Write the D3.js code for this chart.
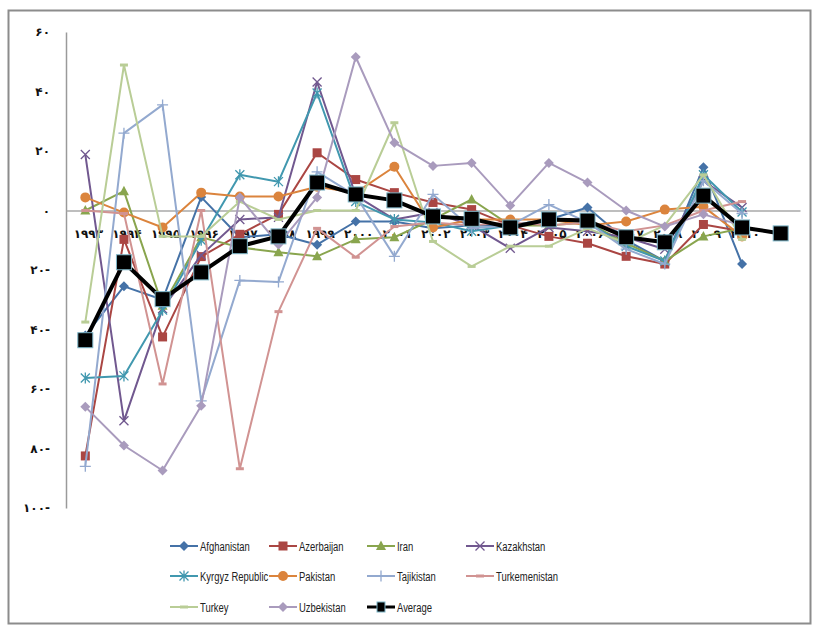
<!DOCTYPE html>
<html>
<head>
<meta charset="utf-8">
<script src="https://cdn.jsdelivr.net/npm/d3@7"></script>
<style>
  body { margin: 0; background: #fff; }
  .yaxis text, .xaxis text { font-family: "DejaVu Sans", sans-serif; font-size: 12px; font-weight: bold; fill: #111; }
  .legend text { font-family: "Liberation Sans", sans-serif; font-size: 13.5px; fill: #222; }
</style>
</head>
<body>
<script>
// years 1993 - 2011 (countries stop at 2010)
var years = ["1993","1994","1995","1996","1997","1998","1999","2000","2001","2002","2003","2004","2005","2006","2007","2008","2009","2010","2011"];
var yearLabels = ["۱۹۹۳","۱۹۹۴","۱۹۹۵","۱۹۹۶","۱۹۹۷","۱۹۹۸","۱۹۹۹","۲۰۰۰","۲۰۰۱","۲۰۰۲","۲۰۰۳","۲۰۰۴","۲۰۰۵","۲۰۰۶","۲۰۰۷","۲۰۰۸","۲۰۰۹","۲۰۱۰",""];
var yTicks = [60, 40, 20, 0, -20, -40, -60, -80, -100];
var yTickLabels = ["۶۰","۴۰","۲۰","۰","۲۰-","۴۰-","۶۰-","۸۰-","۱۰۰-"];

var afghanistan  = [-42, -25.5, -30, 4.5, -9, -8, -11.5, -3.7, -3.7, -6, -5, -5, -3, 1, -10, -17, 14.5, -18, null];
var azerbaijan   = [-82.5, -9.7, -42.5, -15.5, -8, -1.3, 19.4, 10.4, 6, 2.7, 0.3, -5, -8.7, -11, -15.4, -18, -4.7, -7, null];
var iran         = [0, 6.5, -32, -9, -12.4, -14, -15.4, -9.7, -9, -3, 3.7, -5, -5, -4, -11, -17, -8.7, -6, null];
var kazakhstan   = [18.8, -70.7, -33, -15, -3, -2.3, 43.2, 5, -3, -0.7, -5, -12.7, -5.7, -7, -9, -13, 10, 1, null];
var kyrgyz       = [-56.3, -55.6, -33.5, -10, 12, 9.7, 39.5, 3, -3, -4, -7, -5, -3, -4, -12, -17, 12, -0.5, null];
var pakistan     = [4.4, -0.7, -5.7, 6, 4.7, 4.7, 8, 6, 14.7, -5.7, -3, -3, -3, -5, -3.7, 0.3, 1.3, -8.7, null];
var tajikistan   = [-86, 26, 35.5, -64, -23.5, -24, 13, 5, -15.4, 5.4, -6, -5, 2, -4, -13, -18, 10, -1, null];
var turkemenistan = [0, -1, -58.3, 0, -86.8, -34, -6, -15.7, -5.4, -4, -5, -4, -5, -4, -7, -5, 0, 3, null];
var turkey       = [-37.5, 48.9, -8.7, -8.7, 3, -3, 0, 0, 29.5, -10.4, -18.8, -12, -12, -6, -11, -5, 12, -9.7, null];
var uzbekistan   = [-66, -79, -87.4, -65.6, 4.4, -11.4, 4.4, 51.6, 22.8, 15, 16, 1.7, 16, 9.4, 0, -5.4, -1.3, -5, null];
var average      = [-43.6, -17.4, -29.8, -20.8, -12, -8.7, 9.4, 5.4, 3.4, -2, -2.8, -5.7, -3, -3.4, -9, -10.7, 5, -5.7, -7.7];

var seriesNames = ["Afghanistan","Azerbaijan","Iran","Kazakhstan","Kyrgyz Republic","Pakistan","Tajikistan","Turkemenistan","Turkey","Uzbekistan","Average"];
var seriesData = [afghanistan, azerbaijan, iran, kazakhstan, kyrgyz, pakistan, tajikistan, turkemenistan, turkey, uzbekistan, average];
var seriesColors = ["#4572A7","#AA4643","#89A54E","#71588F","#4198AF","#DB843D","#93A9CF","#D19392","#B9CD96","#A99BBD","#000000"];
var seriesMarkers = ["diamond","square","triangle","x","star","circle","plus","dash","dash","diamond","bigsquare"];

var svgWidth = 814;
var svgHeight = 628;

var svg = d3.select("body")
    .append("svg")
    .attr("width", svgWidth)
    .attr("height", svgHeight);

// outer frame
svg.append("rect")
    .attr("x", 8.5).attr("y", 10.5)
    .attr("width", 802).attr("height", 613)
    .attr("fill", "#fff")
    .attr("stroke", "#8c8c8c")
    .attr("stroke-width", 2);

var xScale = d3.scaleBand()
    .domain(years)
    .range([66, 800]);

var yScale = d3.scaleLinear()
    .domain([-100, 60])
    .range([508, 32]);

var cx = function(i) { return xScale(years[i]) + xScale.bandwidth() / 2; };

// y axis
var yAxis = svg.append("g")
    .attr("class", "yaxis")
    .attr("transform", "translate(66,0)")
    .call(d3.axisLeft(yScale)
        .tickValues(yTicks)
        .tickSize(0)
        .tickPadding(16)
        .tickFormat(function(d, i) { return yTickLabels[i]; }));
yAxis.select(".domain").attr("stroke", "#9a9a9a").attr("stroke-width", 1.5);

// category axis sits on zero
var xAxis = svg.append("g")
    .attr("class", "xaxis")
    .attr("transform", `translate(0, ${yScale(0)})`)
    .call(d3.axisBottom(xScale)
        .tickSize(0)
        .tickPadding(19)
        .tickFormat(function(d, i) { return yearLabels[i]; }));
xAxis.select(".domain").attr("stroke", "#a8a8a8").attr("stroke-width", 1.5);
xAxis.selectAll("text").attr("transform", "translate(3,0)");

function drawMarker(g, type, x, y, color) {
    if (type === "diamond") {
        g.append("path").attr("d", `M${x},${y-5}L${x+5},${y}L${x},${y+5}L${x-5},${y}Z`).attr("fill", color);
    } else if (type === "square") {
        g.append("rect").attr("x", x-4.5).attr("y", y-4.5).attr("width", 9).attr("height", 9).attr("fill", color);
    } else if (type === "triangle") {
        g.append("path").attr("d", `M${x},${y-5.5}L${x+5},${y+4}L${x-5},${y+4}Z`).attr("fill", color);
    } else if (type === "circle") {
        g.append("circle").attr("cx", x).attr("cy", y).attr("r", 5).attr("fill", color);
    } else if (type === "x") {
        g.append("path").attr("d", `M${x-4.5},${y-4.5}L${x+4.5},${y+4.5}M${x-4.5},${y+4.5}L${x+4.5},${y-4.5}`)
            .attr("stroke", color).attr("stroke-width", 1.3).attr("fill", "none");
    } else if (type === "star") {
        g.append("path").attr("d", `M${x-4.5},${y-4.5}L${x+4.5},${y+4.5}M${x-4.5},${y+4.5}L${x+4.5},${y-4.5}M${x},${y-5.5}V${y+5.5}`)
            .attr("stroke", color).attr("stroke-width", 1.3).attr("fill", "none");
    } else if (type === "plus") {
        g.append("path").attr("d", `M${x-5.5},${y}H${x+5.5}M${x},${y-5.5}V${y+5.5}`)
            .attr("stroke", color).attr("stroke-width", 1.3).attr("fill", "none");
    } else if (type === "dash") {
        g.append("path").attr("d", `M${x-4},${y}H${x+4}`)
            .attr("stroke", color).attr("stroke-width", 3).attr("fill", "none");
    } else if (type === "bigsquare") {
        g.append("rect").attr("x", x-7.5).attr("y", y-7.5).attr("width", 15).attr("height", 15)
            .attr("fill", "#000").attr("stroke", "#7fb7c9").attr("stroke-width", 1);
    }
}

var line = d3.line()
    .defined(function(d) { return d != null; })
    .x(function(d, i) { return cx(i); })
    .y(function(d) { return yScale(d); });

seriesData.forEach(function(values, s) {
    var g = svg.append("g");
    var isAvg = seriesNames[s] === "Average";
    g.append("path")
        .datum(values)
        .attr("d", line)
        .attr("fill", "none")
        .attr("stroke", seriesColors[s])
        .attr("stroke-width", isAvg ? 4 : 2)
        .attr("stroke-linejoin", "round");
    values.forEach(function(v, i) {
        if (v != null) drawMarker(g, seriesMarkers[s], cx(i), yScale(v), seriesColors[s]);
    });
});

// legend, 4 per row; text squeezed to the narrow look of the original
var legendCols = [170, 269, 367, 466];
var legendRows = [546, 576, 607];
var legend = svg.append("g").attr("class", "legend");
seriesNames.forEach(function(name, s) {
    var lx = legendCols[s % 4];
    var ly = legendRows[Math.floor(s / 4)];
    legend.append("line")
        .attr("x1", lx).attr("x2", lx + 28)
        .attr("y1", ly).attr("y2", ly)
        .attr("stroke", seriesColors[s])
        .attr("stroke-width", name === "Average" ? 3 : 2);
    if (name === "Average") {
        legend.append("rect").attr("x", lx + 10).attr("y", ly - 5).attr("width", 8).attr("height", 10)
            .attr("fill", "#000").attr("stroke", "#7fb7c9").attr("stroke-width", 1);
    } else {
        drawMarker(legend, seriesMarkers[s], lx + 14, ly, seriesColors[s]);
    }
    legend.append("text")
        .attr("transform", `translate(${lx + 30}, ${ly + 4.5}) scale(0.7, 1)`)
        .text(name);
});
</script>
</body>
</html>
